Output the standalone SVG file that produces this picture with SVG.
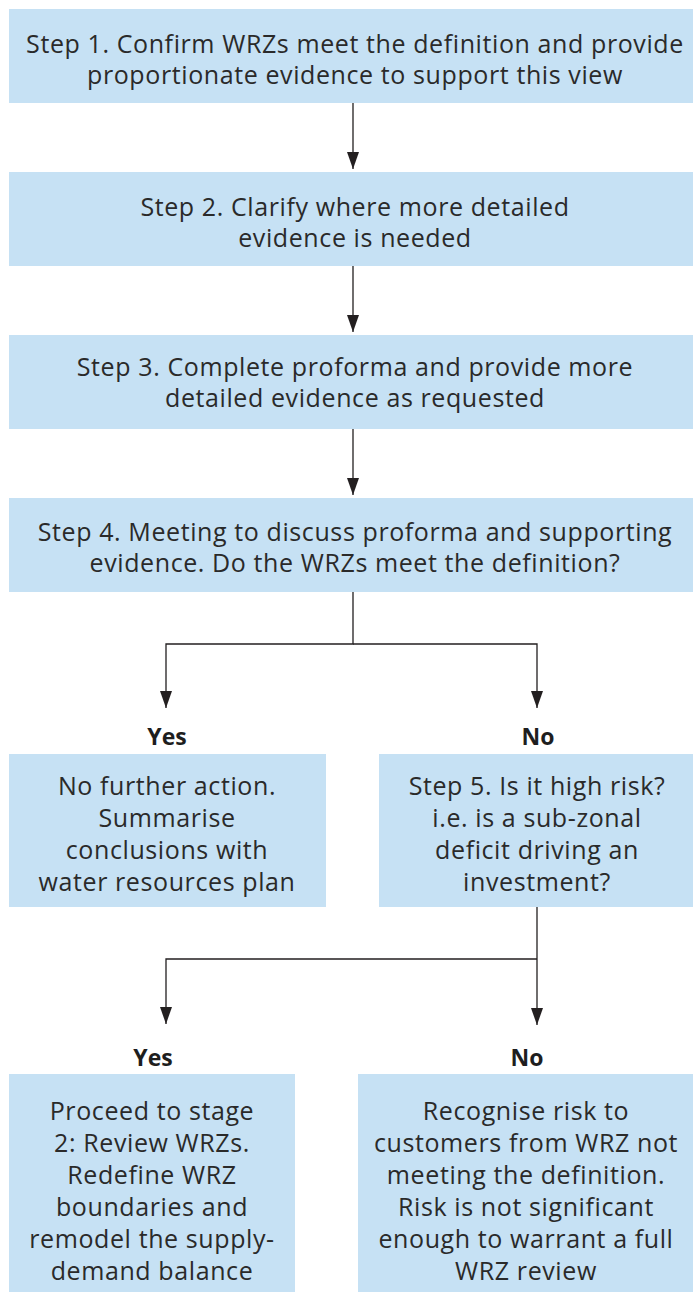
<svg xmlns="http://www.w3.org/2000/svg" width="693" height="1292" viewBox="0 0 693 1292">
<style>
.box{fill:#c6e1f4;}
.t{font-family:"Open Sans","Liberation Sans",sans-serif;font-size:25px;letter-spacing:0.6px;fill:#2a2a2a;text-anchor:middle;}
.lbl{font-family:"Open Sans","Liberation Sans",sans-serif;font-size:23px;font-weight:bold;fill:#1e1e1e;text-anchor:middle;}
.c{fill:none;stroke:#231f20;stroke-width:1.3;}
</style>
<defs>
<marker id="ah" markerUnits="userSpaceOnUse" markerWidth="18" markerHeight="14" viewBox="0 0 18 14" refX="17" refY="7" orient="auto">
<path d="M0,1 L17,7 L0,13 Z" fill="#231f20"/>
</marker>
</defs>
<rect width="693" height="1292" fill="#ffffff"/>
<g id="step1"><rect class="box" x="9" y="9" width="684" height="94"/>
<text class="t" x="355" y="53">Step 1. Confirm WRZs meet the definition and provide</text>
<text class="t" x="355" y="84">proportionate evidence to support this view</text></g>
<g id="step2"><rect class="box" x="9" y="172" width="684" height="94"/>
<text class="t" x="355" y="216">Step 2. Clarify where more detailed</text>
<text class="t" x="355" y="247">evidence is needed</text></g>
<g id="step3"><rect class="box" x="9" y="335" width="684" height="94"/>
<text class="t" x="355" y="376">Step 3. Complete proforma and provide more</text>
<text class="t" x="355" y="407">detailed evidence as requested</text></g>
<g id="step4"><rect class="box" x="9" y="498" width="684" height="94"/>
<text class="t" x="355" y="541">Step 4. Meeting to discuss proforma and supporting</text>
<text class="t" x="355" y="572">evidence. Do the WRZs meet the definition?</text></g>
<g id="yes1"><text class="lbl" x="167" y="745">Yes</text>
<rect class="box" x="9" y="754" width="317" height="153"/>
<text class="t" x="167" y="795">No further action.</text>
<text class="t" x="167" y="827">Summarise</text>
<text class="t" x="167" y="859">conclusions with</text>
<text class="t" x="167" y="891">water resources plan</text></g>
<g id="step5"><text class="lbl" x="538" y="745">No</text>
<rect class="box" x="379" y="754" width="314" height="153"/>
<text class="t" x="537" y="795">Step 5. Is it high risk?</text>
<text class="t" x="537" y="827">i.e. is a sub-zonal</text>
<text class="t" x="537" y="859">deficit driving an</text>
<text class="t" x="537" y="891">investment?</text></g>
<g id="yes2"><text class="lbl" x="153" y="1066">Yes</text>
<rect class="box" x="9" y="1074" width="286" height="218"/>
<text class="t" x="152" y="1120">Proceed to stage</text>
<text class="t" x="152" y="1152">2: Review WRZs.</text>
<text class="t" x="152" y="1184">Redefine WRZ</text>
<text class="t" x="152" y="1216">boundaries and</text>
<text class="t" x="152" y="1248">remodel the supply-</text>
<text class="t" x="152" y="1280">demand balance</text></g>
<g id="no2"><text class="lbl" x="527" y="1066">No</text>
<rect class="box" x="358" y="1074" width="335" height="218"/>
<text class="t" x="526" y="1120">Recognise risk to</text>
<text class="t" x="526" y="1152">customers from WRZ not</text>
<text class="t" x="526" y="1184">meeting the definition.</text>
<text class="t" x="526" y="1216">Risk is not significant</text>
<text class="t" x="526" y="1248">enough to warrant a full</text>
<text class="t" x="526" y="1280">WRZ review</text></g>
<g id="connectors">
<path class="c" d="M353,103 V169" marker-end="url(#ah)"/>
<path class="c" d="M353,266 V332" marker-end="url(#ah)"/>
<path class="c" d="M353,429 V495" marker-end="url(#ah)"/>
<path class="c" d="M353,592 V644 H166 V708" marker-end="url(#ah)"/>
<path class="c" d="M353,644 H537 V708" marker-end="url(#ah)"/>
<path class="c" d="M537,907 V1025" marker-end="url(#ah)"/>
<path class="c" d="M537,959 H166 V1024" marker-end="url(#ah)"/>
</g>
</svg>
